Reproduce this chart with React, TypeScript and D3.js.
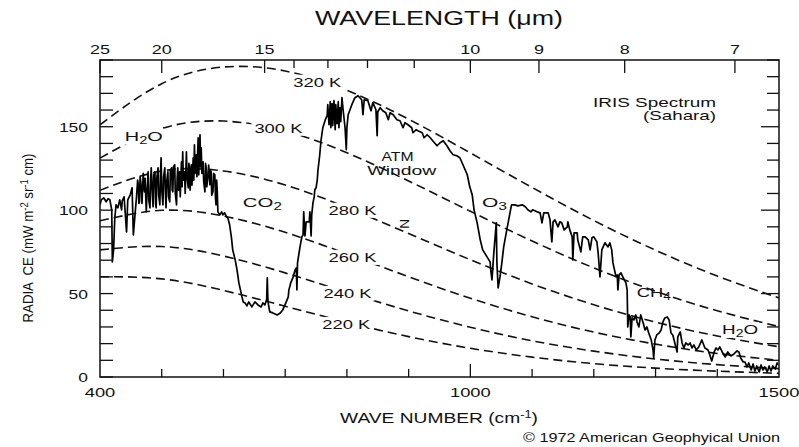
import React from 'react';
import * as d3 from 'd3';

const FONT = "'Liberation Sans', Arial, Helvetica, sans-serif";

// Blackbody reference curves, radiance at wave numbers
const bbWaveNumbers = [400, 500, 600, 700, 800, 900, 1000, 1100, 1200, 1300, 1400, 1500];
const bb320 = [151.2, 175.8, 185.8, 183.4, 171.8, 154.5, 134.3, 113.6, 93.8, 76.0, 60.5, 47.4];
const bb300 = [131.2, 148.9, 153.4, 147.5, 134.4, 117.5, 99.3, 81.5, 65.4, 51.4, 39.7, 30.2];
const bb280 = [111.9, 123.5, 123.5, 115.1, 101.6, 86.0, 70.3, 55.8, 43.3, 32.9, 24.6, 18.1];
const bb260 = [93.6, 99.9, 96.5, 86.7, 73.8, 60.1, 47.2, 36.1, 26.9, 19.7, 14.1, 10.0];
const bb240 = [76.2, 78.2, 72.5, 62.4, 50.8, 39.6, 29.8, 21.7, 15.5, 10.8, 7.4, 5.0];
const bb220 = [60.1, 58.8, 51.9, 42.4, 32.8, 24.2, 17.2, 11.9, 8.0, 5.3, 3.5, 2.2];
const bbSeries = [bb320, bb300, bb280, bb260, bb240, bb220];
const bbLabels = ['320 K', '300 K', '280 K', '260 K', '240 K', '220 K'];
const bbLabelWn = [752, 689, 809, 809, 801, 799];
const bbLabelVal = [174, 146.4, 97.2, 69, 47.4, 28.8];

// IRIS spectrum (Sahara): [wave number cm-1, radiance]
const irisSpectrum: [number, number][] = [
  [400,103.2],[402,106.2],[406,107.4],[410,105.0],[413,106.8],[416,106.2],[419,100.2],[420,69.0],[422,76.2],[424,95.4],
  [426,103.2],[429,101.4],[432,106.2],[435,100.2],[436,105.6],[439,108.0],[443,87.0],[445,106.2],[449,109.2],[452,113.4],
  [454,85.2],[459,107.4],[461,118],[462,115.2],[463,104],[464,105],[465,120],[467,113.4],[468,104],[470,122],
  [472,111],[473,119],[475,99],[476,110],[478,123],[479,106],[481,101.4],[482,118],[483,125.4],[485,108],
  [486,102],[487,121],[489,123],[490,104],[491,101.4],[492,119],[494,125.4],[495,109],[497,103.2],[498,122],
  [499,131.4],[500,112],[502,103.2],[503,120],[505,125.4],[506,110],[507,101.4],[508,117],[510,123],[511,108],
  [513,105],[514,124],[516,125.4],[517,112],[518,111],[519,126],[521,127.2],[522,110],[524,103.2],[525,119],
  [526,125.4],[527,112],[529,123],[530,108],[532,129],[533,114],[534,135],[535,118],[537,123],[538,110],
  [540,135],[541,120],[543,113.4],[544,128],[545,125.4],[546,112],[548,127.2],[549,115],[551,131.4],[552,118],
  [553,139.2],[554,122],[556,133.2],[557,120],[559,143.4],[560,121.2],[562,145.2],[563,126],[564,137.4],[565,122],
  [567,129],[568,117],[570,111],[571,128],[572,125.4],[573,114],[575,121.2],[576,127],[578,115.2],[579,124],
  [580,123],[581,109],[583,111],[584,122],[586,121.2],[587,108],[588,103.2],[589,118],[590,111],[591,99.0],
  [594,97.2],[597,99.0],[599,97.2],[602,98.4],[605,96.0],[607,95.4],[610,91.2],[613,83.4],
  [615,76.2],[619,70.2],[622,64.2],[625,56.4],[630,48.0],[632,45.0],[635,44.4],[638,42.6],[641,45.0],[646,42.0],
  [651,45.0],[656,43.2],[661,42.0],[664,44.4],[667,43.2],[670,46.2],[671,59.4],[672,46.2],[673,43.2],[675,39.0],
  [680,38.4],[687,37.2],[692,38.4],[696,40.2],[701,44.4],[705,48.0],[706,52.2],[709,56.4],[713,60.0],[716,64.2],
  [718,65.4],[719,52.2],[720,68.4],[722,73.2],[724,78.0],[727,84.0],[729,85.2],[730,99.0],[732,84.6],[734,93.0],
  [739,93.0],[740,99.0],[742,84.6],[743,97.2],[745,104.4],[747,108.0],[748,112.2],[750,113.4],[752,118.2],[753,123.6],
  [756,133.2],[758,141.6],[761,149.4],[765,154.2],[768,156.6],[769,163.2],[771,151.2],[773,165.0],[774,149.4],[776,163.8],
  [777,150.6],[779,165.6],[781,148.2],[782,163.2],[784,151.8],[786,165.0],[787,149.4],[789,161.4],[790,153.0],[792,167.4],
  [794,159.6],[797,149.4],[799,136.2],[800,149.4],[802,157.2],[808,163.2],[813,167.4],[818,168.6],[824,166.2],[826,157.2],
  [828,166.2],[834,165.6],[839,159.6],[842,164.4],[847,160.2],[849,144.6],[850,159.0],[854,161.4],[858,159.6],[863,158.4],
  [867,154.2],[870,158.4],[875,157.2],[881,154.2],[886,153.6],[891,149.4],[894,152.4],[899,151.2],[905,149.4],[907,146.4],
  [912,148.2],[915,147.6],[922,146.4],[925,143.4],[930,145.2],[935,143.4],[939,141.6],[946,138.6],[951,140.4],[956,141.6],
  [962,138.6],[967,135.6],[972,133.2],[978,132.6],[983,131.4],[988,127.2],[995,121.2],[999,114.0],[1003,109.2],[1006,100.2],
  [1011,92.4],[1016,82.2],[1020,76.2],[1027,72.0],[1032,69.0],[1033,64.2],[1035,58.2],[1037,69.0],[1038,74.4],[1042,92.4],
  [1043,68.4],[1045,53.4],[1048,60.0],[1051,68.4],[1054,78.0],[1059,88.2],[1063,96.0],[1066,102.0],[1067,103.2],[1072,103.2],
  [1077,102.6],[1084,103.2],[1089,102.0],[1093,100.2],[1098,99.0],[1101,100.2],[1108,99.0],[1113,98.4],[1116,92.4],[1119,98.4],
  [1126,98.4],[1129,94.2],[1132,81.0],[1134,93.0],[1137,94.2],[1142,90.0],[1145,93.0],[1148,92.4],[1152,88.2],[1157,90.0],
  [1158,93.0],[1161,88.2],[1165,84.0],[1166,70.2],[1168,86.4],[1173,86.4],[1174,82.2],[1179,75.0],[1182,84.0],[1186,84.0],
  [1191,82.2],[1194,76.2],[1197,83.4],[1200,84.0],[1205,81.0],[1207,74.4],[1210,60.0],[1213,76.2],[1218,80.4],[1223,78.0],
  [1226,80.4],[1229,76.2],[1231,68.4],[1236,60.0],[1238,61.2],[1239,52.2],[1241,61.2],[1244,62.4],[1247,60.0],[1252,56.4],
  [1254,52.2],[1255,30.0],[1257,37.2],[1259,36.0],[1260,24.0],[1262,35.4],[1265,34.2],[1268,37.2],[1270,33.0],[1273,30.0],
  [1276,37.2],[1280,32.4],[1283,28.2],[1286,30.0],[1289,26.4],[1293,22.2],[1296,16.2],[1297,11.4],[1299,22.2],[1302,25.2],
  [1306,26.4],[1309,28.2],[1312,33.0],[1315,35.4],[1319,36.0],[1322,34.2],[1325,26.4],[1328,25.2],[1332,19.2],[1335,15.0],
  [1336,24.0],[1340,27.0],[1343,20.4],[1346,17.4],[1349,20.4],[1353,19.2],[1356,20.4],[1359,17.4],[1362,19.2],[1366,16.2],
  [1370,18.0],[1375,22.2],[1380,17.4],[1385,16.2],[1388,13.2],[1391,9.6],[1395,15.0],[1398,17.4],[1401,16.2],[1404,18.0],
  [1408,15.0],[1413,12.0],[1417,15.0],[1422,12.6],[1427,13.8],[1432,15.6],[1435,15.0],[1438,11.4],[1442,9.0],[1445,9.0],
  [1448,6.0],[1451,8.4],[1455,4.2],[1458,7.8],[1461,3.6],[1464,6.6],[1468,3.0],[1471,7.2],[1474,4.2],[1477,6.0],
  [1481,3.0],[1484,6.6],[1487,3.6],[1490,6.6],[1494,4.8],[1497,8.4],[1498,7.2],
];

const yTickLabels = [0, 50, 100, 150];
const xTickLabels = [400, 1000, 1500];
const wavelengthLabels = [25, 20, 15, 10, 9, 8, 7];
const wavelengthMinor = [14, 13, 12, 11];

export default function App() {
  const x = d3.scaleLinear().domain([400, 1500]).range([100, 779]);
  const y = d3.scaleLinear().domain([0, 190]).range([377, 60]);
  const [x0, x1] = x.range();
  const [y0, y1] = y.range();

  const bbLine = d3.line<number>()
    .x((_, i) => x(bbWaveNumbers[i]))
    .y((d) => y(d))
    .curve(d3.curveNatural);
  const specLine = d3.line<[number, number]>()
    .x((d) => x(d[0]))
    .y((d) => y(d[1]));

  const yMinor = d3.range(0, 191, 10);
  const xMinor = d3.range(500, 1500, 100);
  const fs = 13.5;

  return (
    <svg width={799} height={447} style={{ position: 'absolute', left: 0, top: 0 }} fontFamily={FONT}>
      <rect x={0} y={0} width={799} height={447} fill="#fff" />
      <defs>
        <clipPath id="plot">
          <rect x={x0} y={y1} width={x1 - x0} height={y0 - y1} />
        </clipPath>
      </defs>

      {/* blackbody curves */}
      <g clipPath="url(#plot)">
        {bbSeries.map((s, i) => (
          <path key={i} d={bbLine(s) || ''} fill="none" stroke="#111" strokeWidth={1.6} strokeDasharray="9,5" />
        ))}
      </g>

      {/* curve labels with knockouts */}
      {bbLabels.map((t, i) => {
        const cx = x(bbLabelWn[i]);
        const by = y(bbLabelVal[i]);
        return (
          <g key={t}>
            <rect x={cx - 27} y={by - 12} width={54} height={15} fill="#fff" />
            <text x={cx} y={by} textAnchor="middle" fontSize={fs} textLength={48} lengthAdjust="spacingAndGlyphs" fill="#111">{t}</text>
          </g>
        );
      })}

      {/* H2O left knockout */}
      <rect x={x(471) - 21} y={y(141.6) - 12} width={42} height={16} fill="#fff" />

      {/* spectrum */}
      <path d={specLine(irisSpectrum) || ''} fill="none" stroke="#000" strokeWidth={1.7} strokeLinejoin="round" clipPath="url(#plot)" />

      {/* frame */}
      <rect x={x0} y={y1} width={x1 - x0} height={y0 - y1} fill="none" stroke="#111" strokeWidth={1.5} />

      {/* left & right ticks */}
      {yMinor.map((v) => (
        <g key={'y' + v}>
          <line x1={x0} x2={x0 + 13} y1={y(v)} y2={y(v)} stroke="#111" strokeWidth={1.3} />
          <line x1={x1} x2={x1 - (v % 50 === 0 ? 18 : 12)} y1={y(v)} y2={y(v)} stroke="#111" strokeWidth={1.3} />
        </g>
      ))}
      {yTickLabels.map((v) => (
        <text key={'yl' + v} x={88} y={y(v) + 5} textAnchor="end" fontSize={fs} textLength={String(v).length * 9.7} lengthAdjust="spacingAndGlyphs" fill="#111">{v}</text>
      ))}

      {/* bottom ticks */}
      {xMinor.map((v) => (
        <line key={'x' + v} x1={x(v)} x2={x(v)} y1={y0} y2={y0 - (v === 1000 ? 13 : 8)} stroke="#111" strokeWidth={1.3} />
      ))}
      {xTickLabels.map((v) => (
        <text key={'xl' + v} x={x(v)} y={397} textAnchor="middle" fontSize={fs} textLength={String(v).length * 10.2} lengthAdjust="spacingAndGlyphs" fill="#111">{v}</text>
      ))}

      {/* top wavelength axis */}
      {wavelengthLabels.map((w) => (
        <g key={'w' + w}>
          <line x1={x(10000 / w)} x2={x(10000 / w)} y1={y1} y2={y1 + 13} stroke="#111" strokeWidth={1.3} />
          <text x={x(10000 / w)} y={54} textAnchor="middle" fontSize={fs} textLength={String(w).length * 10} lengthAdjust="spacingAndGlyphs" fill="#111">{w}</text>
        </g>
      ))}
      {wavelengthMinor.map((w) => (
        <line key={'wm' + w} x1={x(10000 / w)} x2={x(10000 / w)} y1={y1} y2={y1 + 8} stroke="#111" strokeWidth={1.3} />
      ))}

      {/* titles */}
      <text x={439} y={25} textAnchor="middle" fontSize={21} textLength={248} lengthAdjust="spacingAndGlyphs" fill="#111">WAVELENGTH (μm)</text>
      <text x={439} y={423} textAnchor="middle" fontSize={15} textLength={198} lengthAdjust="spacingAndGlyphs" fill="#111">
        WAVE NUMBER (cm<tspan fontSize={10} dy={-5}>-1</tspan><tspan dy={5}>)</tspan>
      </text>
      <text x={780} y={442} textAnchor="end" fontSize={12.5} textLength={257} lengthAdjust="spacingAndGlyphs" fill="#111">© 1972 American Geophyical Union</text>

      <text transform="translate(33,238) rotate(-90)" textAnchor="middle" fontSize={14} textLength={169} lengthAdjust="spacingAndGlyphs" fill="#111" style={{ whiteSpace: 'pre' }}>
        {'RADIA  CE (mW m'}<tspan fontSize={10} dy={-5}>-2</tspan><tspan dy={5}>{' sr'}</tspan><tspan fontSize={10} dy={-5}>-1</tspan><tspan dy={5}>{' cm)'}</tspan>
      </text>

      {/* annotations */}
      <text x={x(471)} y={y(141.6)} textAnchor="middle" fontSize={fs} textLength={38} lengthAdjust="spacingAndGlyphs" fill="#111">
        H<tspan fontSize={10} dy={3}>2</tspan><tspan dy={-3}>O</tspan>
      </text>
      <text x={x(663)} y={y(102)} textAnchor="middle" fontSize={fs} textLength={39} lengthAdjust="spacingAndGlyphs" fill="#111">
        CO<tspan fontSize={10} dy={3}>2</tspan>
      </text>
      <text x={x(1039)} y={y(102)} textAnchor="middle" fontSize={fs} textLength={25} lengthAdjust="spacingAndGlyphs" fill="#111">
        O<tspan fontSize={10} dy={3}>3</tspan>
      </text>
      <text x={x(1297)} y={y(48)} textAnchor="middle" fontSize={fs} textLength={34} lengthAdjust="spacingAndGlyphs" fill="#111">
        CH<tspan fontSize={10} dy={3}>4</tspan>
      </text>
      <rect x={x(1437) - 19} y={y(25.8) - 12} width={38} height={16} fill="#fff" />
      <text x={x(1437)} y={y(25.8)} textAnchor="middle" fontSize={fs} textLength={36} lengthAdjust="spacingAndGlyphs" fill="#111">
        H<tspan fontSize={10} dy={3}>2</tspan><tspan dy={-3}>O</tspan>
      </text>
      <text x={x(1398)} y={y(162)} textAnchor="end" fontSize={fs} textLength={123} lengthAdjust="spacingAndGlyphs" fill="#111">IRIS Spectrum</text>
      <text x={x(1398)} y={y(154.2)} textAnchor="end" fontSize={fs} textLength={73} lengthAdjust="spacingAndGlyphs" fill="#111">(Sahara)</text>
      <text x={x(882)} y={y(129.4)} textAnchor="middle" fontSize={13} textLength={32} lengthAdjust="spacingAndGlyphs" fill="#111">ATM</text>
      <text x={x(889)} y={y(121.2)} textAnchor="middle" fontSize={fs} textLength={69} lengthAdjust="spacingAndGlyphs" fill="#111">Window</text>
      <text transform={`translate(${x(894)},${y(91.8)}) rotate(90)`} textAnchor="middle" dy={5} fontSize={fs} fill="#111">N</text>
    </svg>
  );
}
